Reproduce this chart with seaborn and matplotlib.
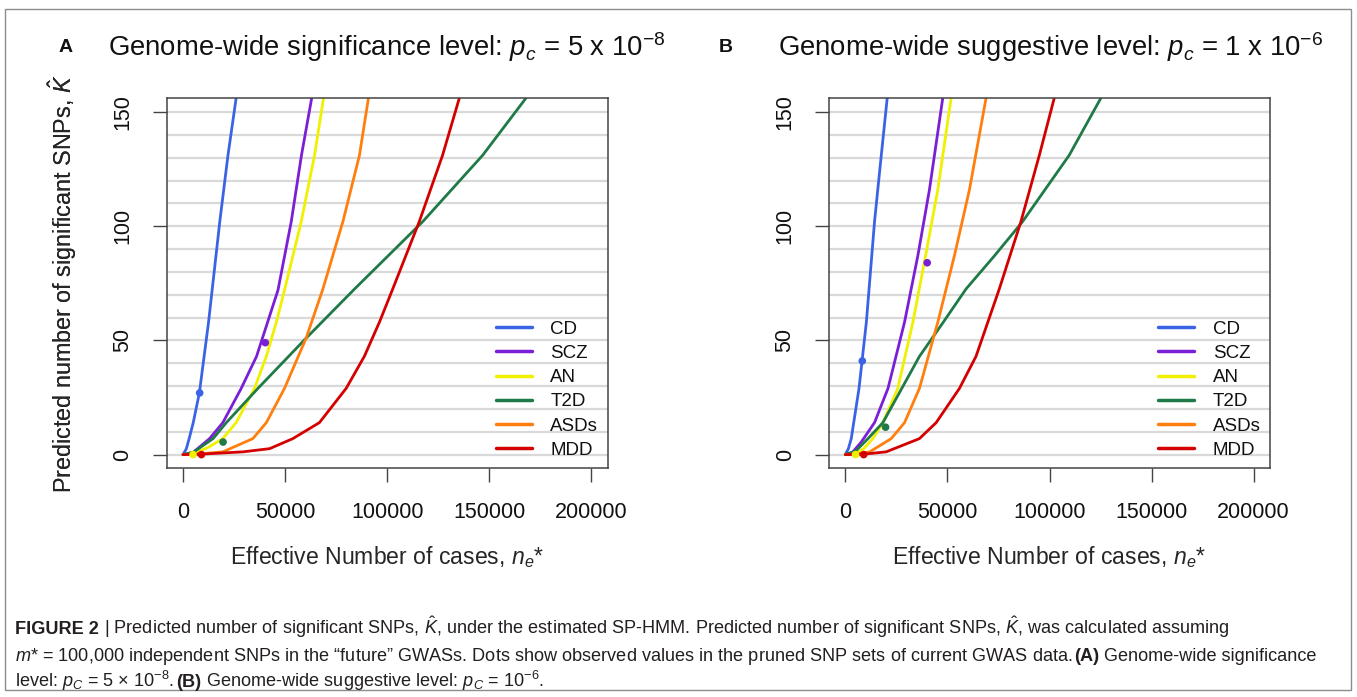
import numpy as np
import pandas as pd
import matplotlib
matplotlib.use("Agg")
import matplotlib.pyplot as plt
import seaborn as sns
from matplotlib.ticker import MultipleLocator
from matplotlib.patches import Rectangle

# ---- data ----
diseases = ['CD', 'SCZ', 'AN', 'T2D', 'ASDs', 'MDD']
colors = ['#3b63e6', '#7a1fd6', '#f0f000', '#1f7a47', '#ff7f0e', '#d40000']

# panel A: p_c = 5e-8
cd_a_x = [0, 1600, 3000, 5000, 8000, 12500, 18000, 22000, 26000]
cd_a_y = [0, 2.5, 7, 14, 27, 58, 102, 131, 156]
scz_a_x = [0, 5000, 13000, 19500, 28500, 36000, 46500, 53000, 58000, 63000]
scz_a_y = [0, 1, 7, 14, 29, 43, 72, 102, 131, 156]
an_a_x = [0, 5000, 12000, 19500, 26000, 35000, 40800, 45700, 49700, 57900, 64400, 68800]
an_a_y = [0, 0.5, 3, 7, 14, 29, 43, 58, 72, 102, 131, 156]
t2d_a_x = [0, 5000, 14700, 21200, 36700, 60300, 84000, 117400, 146700, 167900]
t2d_a_y = [0, 1, 7, 14, 29, 51, 72.5, 102, 131, 156]
asd_a_x = [0, 8000, 19500, 34200, 40800, 49700, 60300, 68500, 78300, 86400, 90800]
asd_a_y = [0, 0.3, 1.2, 7, 14, 29, 51, 72.5, 102, 131, 156]
mdd_a_x = [0, 9000, 29300, 42400, 53800, 66800, 79900, 88800, 96200, 102700, 115700, 127100, 135300]
mdd_a_y = [0, 0.2, 1.2, 2.6, 7, 14, 29, 43, 58, 72.5, 102, 131, 156]

# panel B: p_c = 1e-6
cd_b_x = [0, 1500, 2900, 6700, 10300, 14300, 17600, 20500]
cd_b_y = [0, 2.6, 7, 29, 58, 102, 131, 156]
scz_b_x = [0, 3500, 7800, 14300, 20900, 29000, 35500, 41200, 47700]
scz_b_y = [0, 1, 5.5, 14, 29, 58, 87, 116, 156]
an_b_x = [0, 5000, 9000, 13500, 18400, 25700, 33100, 39300, 45300, 51800]
an_b_y = [0, 0.5, 2.6, 7, 14, 29, 58, 87, 116, 156]
t2d_b_x = [0, 5000, 11100, 18400, 36300, 48000, 59100, 73000, 86800, 109600, 125100]
t2d_b_y = [0, 1.5, 7, 14, 43, 58, 72.5, 87, 102, 131, 156]
asd_b_x = [0, 6000, 11900, 22500, 29000, 36300, 45300, 53400, 60800, 68900]
asd_b_y = [0, 0.3, 1.2, 7, 14, 29, 58, 87, 116, 156]
mdd_b_x = [0, 9000, 20000, 36300, 44500, 55900, 64000, 75400, 86000, 95000, 102300]
mdd_b_y = [0, 0.2, 1.2, 7, 14, 29, 43, 72.5, 102, 131, 156]

# observed values (dots)
dot_a_names = ['CD', 'SCZ', 'AN', 'T2D', 'MDD']
dot_a_x = [8150, 40300, 4900, 19600, 9000]
dot_a_y = [27, 49, 0, 5.5, 0]
dot_b_names = ['CD', 'SCZ', 'AN', 'T2D', 'MDD']
dot_b_x = [8300, 40100, 5000, 19700, 9000]
dot_b_y = [41, 84, 0, 12, 0]

titles = ['Genome-wide significance level: $p_c$ = 5 x 10$^{-8}$',
          'Genome-wide suggestive level: $p_c$ = 1 x 10$^{-6}$']
letters = ['A', 'B']


def long_df(xs, ys):
    rows = []
    for name, x, y in zip(diseases, xs, ys):
        rows.append(pd.DataFrame({'n': x, 'K': y, 'disease': name}))
    return pd.concat(rows, ignore_index=True)


df_a = long_df([cd_a_x, scz_a_x, an_a_x, t2d_a_x, asd_a_x, mdd_a_x],
               [cd_a_y, scz_a_y, an_a_y, t2d_a_y, asd_a_y, mdd_a_y])
df_b = long_df([cd_b_x, scz_b_x, an_b_x, t2d_b_x, asd_b_x, mdd_b_x],
               [cd_b_y, scz_b_y, an_b_y, t2d_b_y, asd_b_y, mdd_b_y])
dots_a = pd.DataFrame({'n': dot_a_x, 'K': dot_a_y, 'disease': dot_a_names})
dots_b = pd.DataFrame({'n': dot_b_x, 'K': dot_b_y, 'disease': dot_b_names})

sns.set_theme(style="white")
plt.rcParams['font.family'] = ['Liberation Sans', 'DejaVu Sans']
plt.rcParams['mathtext.fontset'] = 'custom'
plt.rcParams['mathtext.rm'] = 'Liberation Sans'
plt.rcParams['mathtext.it'] = 'Liberation Sans:italic'
plt.rcParams['mathtext.bf'] = 'Liberation Sans:bold'
plt.rcParams['text.color'] = '#111111'

palette = dict(zip(diseases, colors))
W, H = 1357, 697
fig = plt.figure(figsize=(W / 100, H / 100), dpi=100)

ax_lefts = [166.7, 829.0]
ax_w = 441.0
ax_top, ax_bot = 98.3, 468.3

for i, (df, dots) in enumerate([(df_a, dots_a), (df_b, dots_b)]):
    ax = fig.add_axes([ax_lefts[i] / W, 1 - ax_bot / H, ax_w / W, (ax_bot - ax_top) / H])
    sns.lineplot(data=df, x='n', y='K', hue='disease', hue_order=diseases, palette=palette,
                 estimator=None, sort=False, linewidth=2.0, ax=ax, legend=True)
    sns.scatterplot(data=dots, x='n', y='K', hue='disease', palette=palette, s=30,
                    edgecolor='none', ax=ax, legend=False, zorder=5)
    ax.set_xlim(-8000, 208000)
    ax.set_ylim(-6, 156)
    ax.set_xticks([0, 50000, 100000, 150000, 200000])
    ax.set_yticks([0, 50, 100, 150])
    ax.yaxis.set_minor_locator(MultipleLocator(10))
    ax.grid(axis='y', which='both', color='#d9d9d9', linewidth=1.6)
    ax.set_axisbelow(True)
    for sp in ax.spines.values():
        sp.set_color('#444444')
        sp.set_linewidth(1.1)
    ax.tick_params(axis='both', which='major', length=10, width=1, color='#444444',
                   labelsize=15.5, labelcolor='#111111', pad=14, direction='out',
                   bottom=True, left=True)
    ax.tick_params(axis='y', which='minor', length=0)
    ax.tick_params(axis='y', labelrotation=90, pad=14)
    for lab in ax.get_yticklabels():
        lab.set_va('center')
    ax.set_xlabel('Effective Number of cases, $n_e$*', fontsize=16.6, va='center')
    ax.xaxis.set_label_coords(0.5, (ax_bot - 557) / (ax_bot - ax_top))
    ax.set_ylabel('Predicted number of significant SNPs, $\\hat{K}$', fontsize=16.8, va='center')
    ax.yaxis.set_label_coords((63 - ax_lefts[i]) / ax_w, 0.5)

    handles, labels = ax.get_legend_handles_labels()
    leg = ax.legend(handles, labels, loc='lower right', frameon=False, fontsize=13.5,
                    handlelength=1.9, handletextpad=1.0, labelspacing=0.38,
                    borderaxespad=0.1, bbox_to_anchor=(1.0, 0.0))
    for h in leg.get_lines():
        h.set_linewidth(2.5)

    # panel letter and title
    fig.text((66 + 660 * i) / W, 1 - 48 / H, letters[i], fontsize=14, fontweight='bold',
             ha='center', va='center')
    fig.text((108 + 670 * i) / W, 1 - 47 / H, titles[i], fontsize=19.8, ha='left', va='center')

# frame around the figure
fig.add_artist(Rectangle((5 / W, 1 - 690 / H), 1346 / W, 681 / H, transform=fig.transFigure,
                         fill=False, edgecolor='#8c8c8c', linewidth=1.0))

# caption, with bold pieces placed one after another on a shared baseline
caption = [
    [("FIGURE 2", 'bold'), (" | Predicted number of significant SNPs, $\\hat{K}$, under the estimated SP-HMM. "
                            "Predicted number of significant SNPs, $\\hat{K}$, was calculated assuming", 'normal')],
    [("$m$* = 100,000 independent SNPs in the \u201cfuture\u201d GWASs. Dots show observed values in the pruned "
      "SNP sets of current GWAS data. ", 'normal'), ("(A)", 'bold'), (" Genome-wide significance", 'normal')],
    [("level: $p_C$ = 5 \u00d7 10$^{-8}$. ", 'normal'), ("(B)", 'bold'),
     (" Genome-wide suggestive level: $p_C$ = 10$^{-6}$.", 'normal')],
]
line_base = [634, 661, 687]
renderer = fig.canvas.get_renderer()
for parts, y in zip(caption, line_base):
    x = 15
    for txt, wt in parts:
        t = fig.text(x / W, 1 - y / H, txt, fontsize=13.1, fontweight=wt, color='#231f20',
                     ha='left', va='baseline')
        x += t.get_window_extent(renderer).width

fig.savefig('out.png', dpi=100)
